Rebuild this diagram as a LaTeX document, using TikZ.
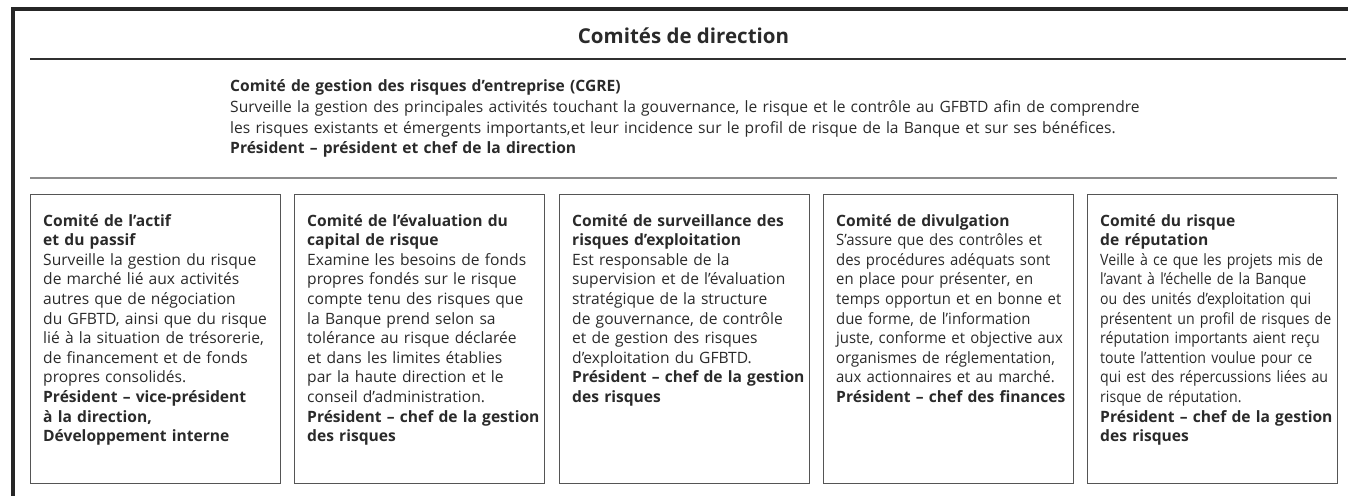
\documentclass[tikz,border=0pt]{standalone}
\usepackage{fontspec}
\setmainfont{Open Sans}
\newfontfamily\narrowA[FakeStretch=0.955]{Open Sans}
\newfontfamily\narrowB[FakeStretch=0.905]{Open Sans}
\definecolor{txt}{HTML}{2A2A2A}
\definecolor{framec}{HTML}{262626}
\definecolor{rulec}{HTML}{303030}
\definecolor{grayrule}{HTML}{8C8C8C}
\definecolor{boxc}{HTML}{555555}
\begin{document}
\begin{tikzpicture}[x=1pt,y=-1pt,
  framebar/.style={line width=4.5pt,draw=framec,line join=miter},
  rule/.style={line width=1.2pt,draw=rulec},
  grule/.style={line width=1.8pt,draw=grayrule},
  cbox/.style={draw=boxc,line width=1.1pt,minimum width=250pt,minimum height=289pt,inner sep=0pt,anchor=north west},
  ctext/.style={anchor=base west,text width=300pt,align=left,inner sep=0pt,font=\fontsize{15.6}{19.6}\selectfont,text=txt},
  ttl/.style={font=\fontsize{20.5}{24}\selectfont\bfseries,text=txt,inner sep=0pt},
]
\useasboundingbox (0,0) rectangle (1348,495);
% frame
\coordinate (fb) at (13,500);
\coordinate (fc) at (13,9);
\coordinate (fr) at (1352,9);
\draw[framebar] (fb) -- (fc) -- (fr);
% title
\node[ttl] (title) at (683.5,36) {Comités de direction};
\coordinate (r1a) at (30,59);
\coordinate (r1b) at (1346,59);
\draw[rule] (r1a) -- (r1b);
% CGRE
\node[ctext,text width=1100pt,font=\fontsize{15.6}{20.6}\selectfont] (cgre) at (230,92) {\bfseries Comité de gestion des risques d’entreprise (CGRE)\\
\mdseries Surveille la gestion des principales activités touchant la gouvernance, le risque et le contrôle au GFBTD afin de comprendre\\
les risques existants et émergents importants,et leur incidence sur le profil de risque de la Banque et sur ses bénéfices.\\
\bfseries Président – président et chef de la direction};
\coordinate (r2a) at (30,178);
\coordinate (r2b) at (1337,178);
\draw[grule] (r2a) -- (r2b);
% boxes
\node[cbox] (b1) at (30,194) {};
\node[cbox] (b2) at (294,194) {};
\node[cbox] (b3) at (559,194) {};
\node[cbox] (b4) at (823,194) {};
\node[cbox] (b5) at (1087,194) {};
\node[ctext] (t1) at ([xshift=13pt,yshift=-32pt]b1.north west) {\bfseries Comité de l’actif\\et du passif\\
\mdseries Surveille la gestion du risque\\de marché lié aux activités\\autres que de négociation\\du GFBTD, ainsi que du risque\\lié à la situation de trésorerie,\\de financement et de fonds\\propres consolidés.\\
\bfseries Président – vice-président\\à la direction,\\Développement interne};
\node[ctext] (t2) at ([xshift=13pt,yshift=-32pt]b2.north west) {\bfseries Comité de l’évaluation du\\capital de risque\\
\mdseries Examine les besoins de fonds\\propres fondés sur le risque\\compte tenu des risques que\\la Banque prend selon sa\\tolérance au risque déclarée\\et dans les limites établies\\par la haute direction et le\\conseil d’administration.\\
\bfseries Président – chef de la gestion\\des risques};
\node[ctext] (t3) at ([xshift=13pt,yshift=-32pt]b3.north west) {\bfseries Comité de surveillance des\\risques d’exploitation\\
\mdseries Est responsable de la\\supervision et de l’évaluation\\stratégique de la structure\\de gouvernance, de contrôle\\et de gestion des risques\\d’exploitation du GFBTD.\\
\bfseries Président – chef de la gestion\\des risques};
\node[ctext] (t4) at ([xshift=13pt,yshift=-32pt]b4.north west) {\bfseries Comité de divulgation\\
\mdseries\narrowA S’assure que des contrôles et\\des procédures adéquats sont\\en place pour présenter, en\\temps opportun et en bonne et\\due forme, de l’information\\juste, conforme et objective aux\\organismes de réglementation,\\aux actionnaires et au marché.\\
\rmfamily\bfseries Président – chef des finances};
\node[ctext] (t5) at ([xshift=13pt,yshift=-32pt]b5.north west) {\bfseries Comité du risque\\de réputation\\
\mdseries\narrowB Veille à ce que les projets mis de\\l’avant à l’échelle de la Banque\\ou des unités d’exploitation qui\\présentent un profil de risques de\\réputation importants aient reçu\\toute l’attention voulue pour ce\\qui est des répercussions liées au\\risque de réputation.\\
\rmfamily\bfseries Président – chef de la gestion\\des risques};
\end{tikzpicture}
\end{document}
